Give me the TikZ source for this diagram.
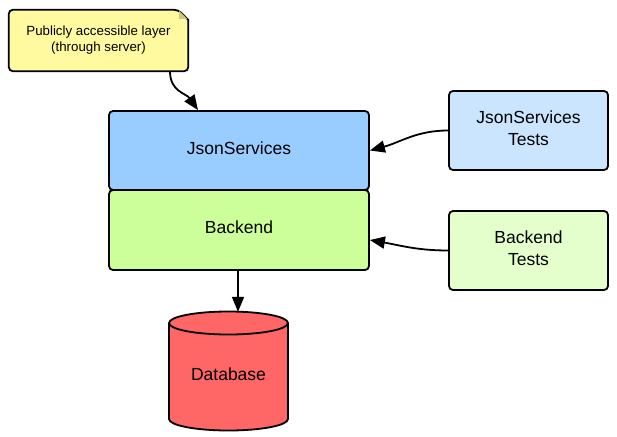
\documentclass[tikz,border=0pt]{standalone}
\usepackage{fontspec}
\setmainfont{Liberation Sans}
\usetikzlibrary{arrows.meta}
\pgfdeclarelayer{bg}
\pgfsetlayers{bg,main}
\definecolor{notefill}{HTML}{FFFA9F}
\definecolor{jsfill}{HTML}{99CCFF}
\definecolor{befill}{HTML}{CCFF99}
\definecolor{jstfill}{HTML}{CCE5FF}
\definecolor{btfill}{HTML}{E5FFCC}
\definecolor{dbfill}{HTML}{FF6666}
\tikzset{
  box/.style={draw=black, line width=1.8pt, rounded corners=4pt, inner sep=0pt, align=center, text depth=5pt, font=\fontsize{17.5}{22}\selectfont},
  conn/.style={line width=1.8pt, -{Triangle[length=15pt,width=12pt]}},
}
\begin{document}
\begin{tikzpicture}[x=1pt,y=-1pt]
\useasboundingbox (0,0) rectangle (617,436);
% note
\node[inner sep=0pt, minimum width=179pt, minimum height=61pt, align=center,
      font=\fontsize{13.3}{16}\selectfont] (note) at (98.5,40.5) {Publicly accessible layer\\(through server)};
\begin{pgfonlayer}{bg}
\draw[line width=1.8pt, fill=notefill, rounded corners=4pt]
  (note.north west) -- ([xshift=-10pt]note.north east) [sharp corners] -- ([yshift=-10pt]note.north east) [rounded corners=4pt] -- (note.south east) -- (note.south west) -- cycle;
\fill[notefill!80!black] ([xshift=-9pt,yshift=-1pt]note.north east) -- ([xshift=-1pt,yshift=-9pt]note.north east) -- ([xshift=-9pt,yshift=-9pt]note.north east) -- cycle;
\end{pgfonlayer}
% main boxes
\node[box, fill=jsfill, minimum width=260pt, minimum height=79pt] (js) at (239,150.5) {JsonServices};
\node[box, fill=befill, minimum width=260pt, minimum height=80pt] (be) at (239,230) {Backend};
\node[box, fill=jstfill, minimum width=159pt, minimum height=79pt] (jst) at (528.5,130.5) {JsonServices\\Tests};
\node[box, fill=btfill, minimum width=159pt, minimum height=79pt] (bt) at (528.5,250.5) {Backend\\Tests};
% database
\node[inner sep=0pt, minimum width=119pt, minimum height=119pt, font=\fontsize{17.5}{22}\selectfont] (db) at (228.5,371.5) {};
\draw[line width=1.8pt, fill=dbfill]
  (169,323) -- (169,419) arc[start angle=180, end angle=360, x radius=59.5pt, y radius=11.5pt]
  -- (288,323) arc[start angle=0, end angle=180, x radius=59.5pt, y radius=11.5pt] -- cycle;
\draw[line width=1.8pt] (169,323) arc[start angle=180, end angle=360, x radius=59.5pt, y radius=11.5pt];
\node[font=\fontsize{17.5}{22}\selectfont] at (228.5,374) {Database};
% connectors
\draw[conn] ([xshift=71.5pt]note.south) to[out=-90, in=125, looseness=1.1] ([xshift=-41pt]js.north);
\draw[conn] (jst.west) to[out=180, in=15] (js.east);
\draw[conn] (bt.west) to[out=180, in=-10] ([yshift=-10pt]be.east);
\draw[conn] ([xshift=-1pt]be.south) -- ([xshift=-1pt]be.south |- db.north);
\end{tikzpicture}
\end{document}
